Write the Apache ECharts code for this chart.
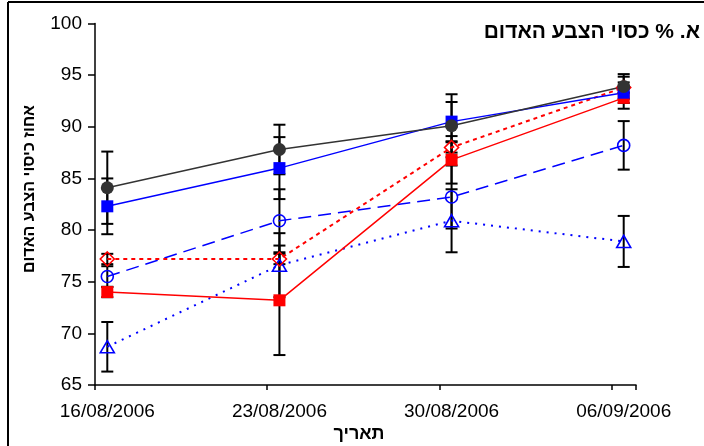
<!DOCTYPE html>
<html><head><meta charset="utf-8">
<script src="https://cdn.jsdelivr.net/npm/echarts@6/dist/echarts.min.js"></script>
<style>html,body{margin:0;padding:0;background:#fff}#c{width:704px;height:446px}</style>
</head><body><div id="c"></div>
<script>
// Tick labels (dates of measurement)
const tickLabels = ['16/08/2006', '23/08/2006', '30/08/2006', '06/09/2006'];
// Series values
const blackCircle = [84.1, 87.8, 90.1, 93.9];
const blueSquare = [82.3, 86.0, 90.5, 93.3];
const redSquare = [74.0, 73.2, 86.8, 92.8];
const redDiamond = [77.2, 77.2, 88.0, 93.8];
const blueCircle = [75.5, 80.9, 83.2, 88.2];
const blueTriangle = [68.7, 76.6, 80.9, 78.9];
// Error (+/-) values
const errBlackCircle = [3.5, 2.4, 3.05, 1.2];
const errBlueSquare = [2.7, 3.0, 1.9, 1.55];
const errRedSquare = [0.5, 5.3, 2.3, 0.5];
const errRedDiamond = [0.5, 0.5, 0.5, 0.5];
const errBlueCircle = [1.0, 3.05, 3.05, 2.35];
const errBlueTriangle = [2.4, 3.1, 3.05, 2.47];

const titleText = 'א. % כסוי הצבע האדום';
const yTitle = 'אחוז כיסוי הצבע האדום';
const xTitle = 'תאריך';

// daily category axis from first to last label
const days = [];
for (let d = 0; d < 22; d++) {
  const dt = new Date(2006, 7, 16 + d);
  days.push(String(dt.getDate()).padStart(2, '0') + '/' + String(dt.getMonth() + 1).padStart(2, '0') + '/' + dt.getFullYear());
}
const FONT = '"Liberation Sans", Arial, sans-serif';

function pts(vals) { return tickLabels.map((t, i) => [t, vals[i]]); }
function errs(vals, e) { return tickLabels.map((t, i) => [t, vals[i] - e[i], vals[i] + e[i]]); }

function errSeries(vals, e) {
  return {
    type: 'custom', z: 1, silent: true,
    data: errs(vals, e),
    encode: { x: 0, y: [1, 2] },
    renderItem: function (params, api) {
      const x = api.value(0);
      const lo = api.coord([x, api.value(1)]);
      const hi = api.coord([x, api.value(2)]);
      const w = 6;
      const st = { stroke: '#000', lineWidth: 2 };
      return { type: 'group', children: [
        { type: 'line', shape: { x1: lo[0], y1: lo[1], x2: hi[0], y2: hi[1] }, style: st },
        { type: 'line', shape: { x1: lo[0] - w, y1: lo[1], x2: lo[0] + w, y2: lo[1] }, style: st },
        { type: 'line', shape: { x1: hi[0] - w, y1: hi[1], x2: hi[0] + w, y2: hi[1] }, style: st }
      ] };
    }
  };
}

function lineSeries(vals, color, dash, symbol, size, hollow, width) {
  return {
    type: 'line', z: 3,
    data: pts(vals),
    symbol: symbol, symbolSize: size,
    lineStyle: { color: color, width: width, type: dash },
    itemStyle: hollow ? { color: 'rgba(0,0,0,0)', borderColor: color, borderWidth: 1.6 } : { color: color, borderWidth: 0 },
    emphasis: { disabled: true },
    animation: false
  };
}

const chart = echarts.init(document.getElementById('c'), null, { renderer: 'canvas' });
chart.setOption({
  animation: false,
  backgroundColor: '#fff',
  grid: { left: 95, right: 68, top: 23.5, bottom: 61 },
  xAxis: {
    type: 'category', data: days, boundaryGap: true,
    axisLine: { lineStyle: { color: '#000', width: 1.5 } },
    axisTick: { show: true, length: 5, inside: false, interval: function (i) { return i % 7 === 0; }, lineStyle: { color: '#000', width: 1.5 } },
    axisLabel: { interval: function (i, v) { return tickLabels.indexOf(v) >= 0; }, color: '#000', fontSize: 19, fontFamily: FONT, margin: 17 },
    splitLine: { show: false }
  },
  yAxis: {
    type: 'value', min: 65, max: 100, interval: 5,
    axisLine: { show: true, lineStyle: { color: '#000', width: 1.5 } },
    axisTick: { show: true, length: 7, lineStyle: { color: '#000', width: 1.5 } },
    axisLabel: { color: '#000', fontSize: 19, fontFamily: FONT, margin: 13 },
    splitLine: { show: false }
  },
  graphic: [
    { type: 'line', z: 100, shape: { x1: 8, y1: 2, x2: 704, y2: 2 }, style: { stroke: '#000', lineWidth: 2 } },
    { type: 'line', z: 100, shape: { x1: 8, y1: 2, x2: 8, y2: 446 }, style: { stroke: '#000', lineWidth: 2 } },
    { type: 'text', x: 700, y: 32, style: { text: titleText, font: 'bold 21px ' + FONT, fill: '#000', textAlign: 'right', textVerticalAlign: 'middle' } },
    { type: 'text', x: 30, y: 189, rotation: Math.PI / 2, style: { text: yTitle, font: 'bold 16px ' + FONT, fill: '#000', textAlign: 'center', textVerticalAlign: 'middle' } },
    { type: 'text', x: 359, y: 434, style: { text: xTitle, font: 'bold 18px ' + FONT, fill: '#000', textAlign: 'center', textVerticalAlign: 'middle' } }
  ],
  series: [
    errSeries(blackCircle, errBlackCircle),
    errSeries(blueSquare, errBlueSquare),
    errSeries(redSquare, errRedSquare),
    errSeries(redDiamond, errRedDiamond),
    errSeries(blueCircle, errBlueCircle),
    errSeries(blueTriangle, errBlueTriangle),
    lineSeries(blueTriangle, '#0000ff', [2, 6], 'triangle', [14, 12], true, 2),
    lineSeries(blueCircle, '#0000ff', [13, 7], 'circle', 12, true, 1.5),
    lineSeries(redDiamond, '#ff0000', [4, 4], 'diamond', [14, 14], true, 2),
    lineSeries(redSquare, '#ff0000', 'solid', 'rect', 12, false, 1.5),
    lineSeries(blueSquare, '#0000ff', 'solid', 'rect', 12, false, 1.5),
    lineSeries(blackCircle, '#333333', 'solid', 'circle', 13, false, 1.5)
  ]
});
</script></body></html>
